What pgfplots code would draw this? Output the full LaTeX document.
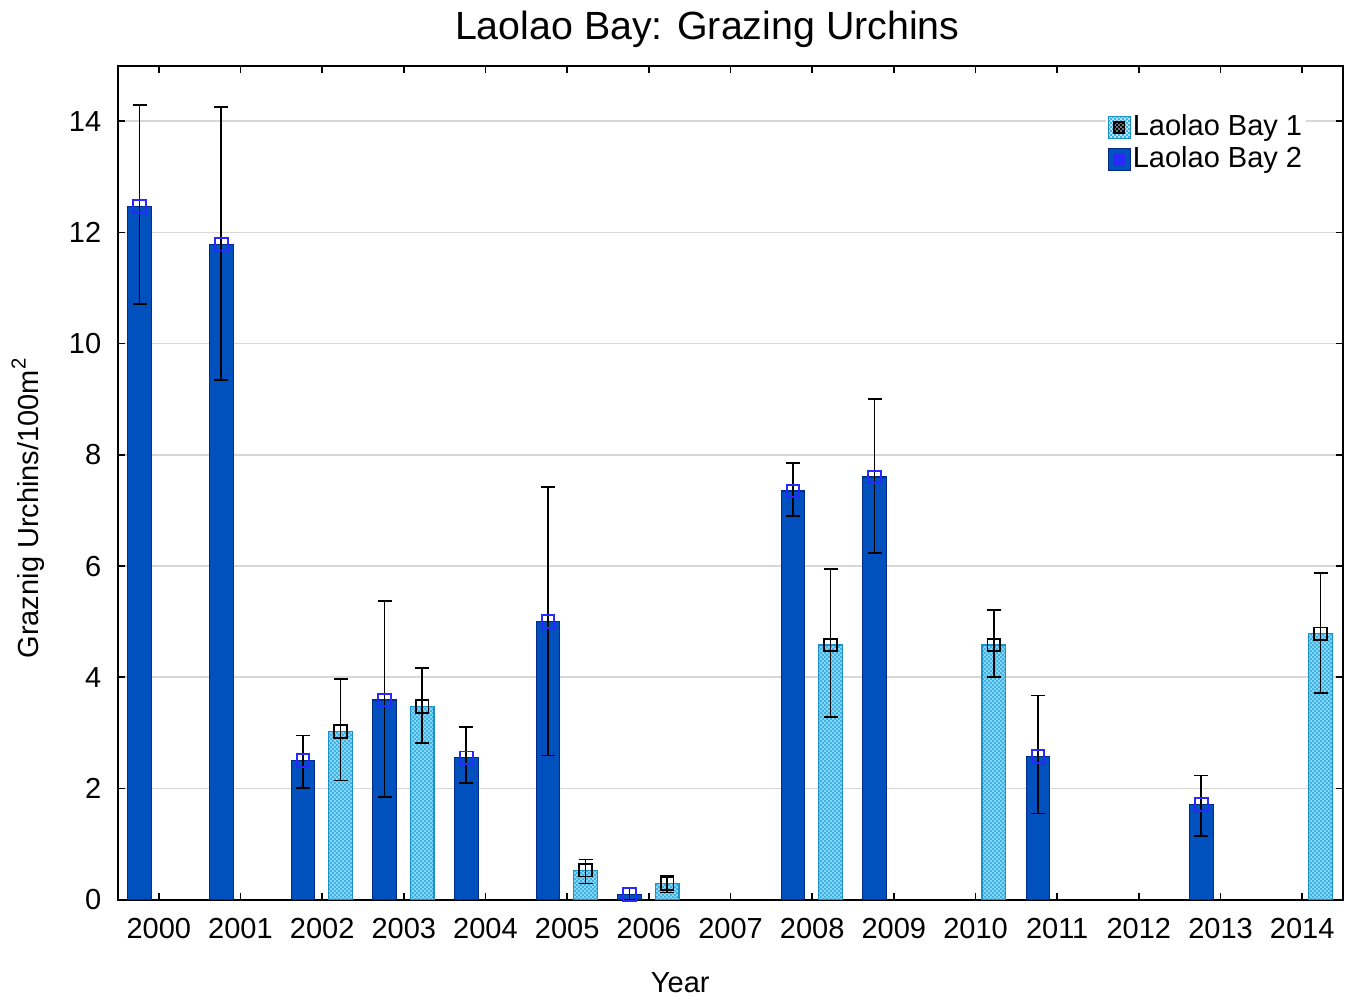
\documentclass[border=0pt]{standalone}
\usepackage{fontspec}
\setmainfont{Liberation Sans}
\usepackage{pgfplots}
\pgfplotsset{compat=1.18}
\usepackage{pgfplotstable}
\usetikzlibrary{patterns,patterns.meta}
\definecolor{darkfill}{RGB}{0,80,190}
\definecolor{darkdraw}{RGB}{0,45,140}
\definecolor{lightfill}{RGB}{56,180,230}
\definecolor{lightdraw}{RGB}{26,144,204}
\definecolor{markblue}{RGB}{40,40,255}
\definecolor{gridgray}{RGB}{215,215,215}
\tikzdeclarepattern{
  name=finedots,
  type=uncolored,
  bottom left={(-.1pt,-.1pt)},
  top right={(1.3pt,1.3pt)},
  tile size={(1.2pt,1.2pt)},
  code={\pgfpathcircle{\pgfpoint{0.3pt}{0.3pt}}{0.28pt}\pgfpathcircle{\pgfpoint{0.9pt}{0.9pt}}{0.28pt}\pgfusepath{fill}}
}
\pgfplotstableread{
i v lo hi
2 3.02 2.14 3.97
3 3.47 2.82 4.17
5 0.53 0.29 0.72
6 0.29 0.13 0.43
8 4.58 3.29 5.95
10 4.58 4.00 5.21
14 4.78 3.72 5.88
}\bayone
\pgfplotstableread{
i v lo hi
0 12.47 10.71 14.29
1 11.79 9.35 14.25
2 2.50 2.01 2.95
3 3.59 1.85 5.37
4 2.55 2.10 3.11
5 5.00 2.59 7.42
6 0.09 0.00 0.21
8 7.35 6.90 7.85
9 7.60 6.24 9.00
11 2.57 1.55 3.67
13 1.71 1.15 2.23
}\baytwo
\begin{document}
\begin{tikzpicture}
\begin{axis}[
  scale only axis,
  width=367.5pt, height=250.2pt,
  xmin=-0.5, xmax=14.5, ymin=0, ymax=15,
  xtick={0,...,14},
  xticklabels={2000,2001,2002,2003,2004,2005,2006,2007,2008,2009,2010,2011,2012,2013,2014},
  ytick={0,2,...,14},
  tick pos=both, tick align=inside,
  major tick length=2.1pt,
  tick style={black, line width=0.45pt},
  axis line style={black, line width=0.55pt},
  ymajorgrids, grid style={gridgray, line width=0.5pt},
  /pgf/number format/assume math mode=true,
  ticklabel style={font=\fontsize{8.7}{10.5}\selectfont},
  xticklabel style={yshift=-2pt},
  yticklabel style={xshift=-1.5pt},
  title={Laolao Bay: Grazing Urchins},
  title style={font=\fontsize{11.8}{13.5}\selectfont, at={(axis description cs:0.481,1)}, anchor=base, yshift=1.8pt},
  xlabel={Year},
  xlabel style={font=\fontsize{8.7}{10.5}\selectfont, at={(axis description cs:0.459,0)}, anchor=base, yshift=-27.9pt},
  ylabel={Graznig Urchins/100m$^{\mathrm{2}}$},
  ylabel style={font=\fontsize{8.7}{10.5}\selectfont, at={(axis description cs:-0.0735,0.47)}, anchor=center},
  legend style={at={(axis description cs:0.806,0.952)}, anchor=north west, draw=none, fill=white,
    font=\fontsize{8.7}{10.5}\selectfont, inner sep=0.5pt, row sep=-2.2pt,
    nodes={inner xsep=0.6pt},
    /tikz/every even column/.append style={column sep=0pt}},
  legend cell align=left,
  error bars/error bar style={black, line width=0.5pt},
  error bars/error mark options={black, line width=0.5pt, mark size=2.1pt, rotate=90},
]
\addplot[ybar, bar width=0.29, bar shift=0pt, fill=lightfill, draw=lightdraw, line width=0.35pt,
  postaction={pattern={finedots}, pattern color=white!85!lightfill},
  mark=square, mark size=1.9pt, mark options={draw=black, fill=none, line width=0.55pt, solid},
  error bars/.cd, y dir=both, y explicit,
  /pgfplots/legend image code/.code={
    \draw[fill=lightfill, draw=lightdraw, line width=0.35pt, postaction={pattern={finedots}, pattern color=white!85!lightfill}] (0pt,-3.3pt) rectangle (6.6pt,3.3pt);
    \draw[black, line width=0.5pt] (1.7pt,-1.6pt) rectangle (4.9pt,1.6pt);}
] table[x expr=\thisrow{i}+0.225, y=v, y error plus expr=\thisrow{hi}-\thisrow{v}, y error minus expr=\thisrow{v}-\thisrow{lo}] {\bayone};
\addlegendentry{Laolao Bay 1}
\addplot[ybar, bar width=0.29, bar shift=0pt, fill=darkfill, draw=darkdraw, line width=0.35pt,
  mark=square, mark size=1.9pt, mark options={draw=markblue, fill=none, line width=0.55pt, solid},
  error bars/.cd, y dir=both, y explicit,
  /pgfplots/legend image code/.code={
    \draw[fill=darkfill, draw=darkdraw, line width=0.35pt] (0pt,-3.3pt) rectangle (6.6pt,3.3pt);
    \draw[markblue, line width=0.5pt] (1.7pt,-1.6pt) rectangle (4.9pt,1.6pt);}
] table[x expr=\thisrow{i}-0.235, y=v, y error plus expr=\thisrow{hi}-\thisrow{v}, y error minus expr=\thisrow{v}-\thisrow{lo}] {\baytwo};
\addlegendentry{Laolao Bay 2}
\end{axis}
\path (-35.4pt,-29.7pt) rectangle (370.5pt,269.1pt);
\end{tikzpicture}
\end{document}
